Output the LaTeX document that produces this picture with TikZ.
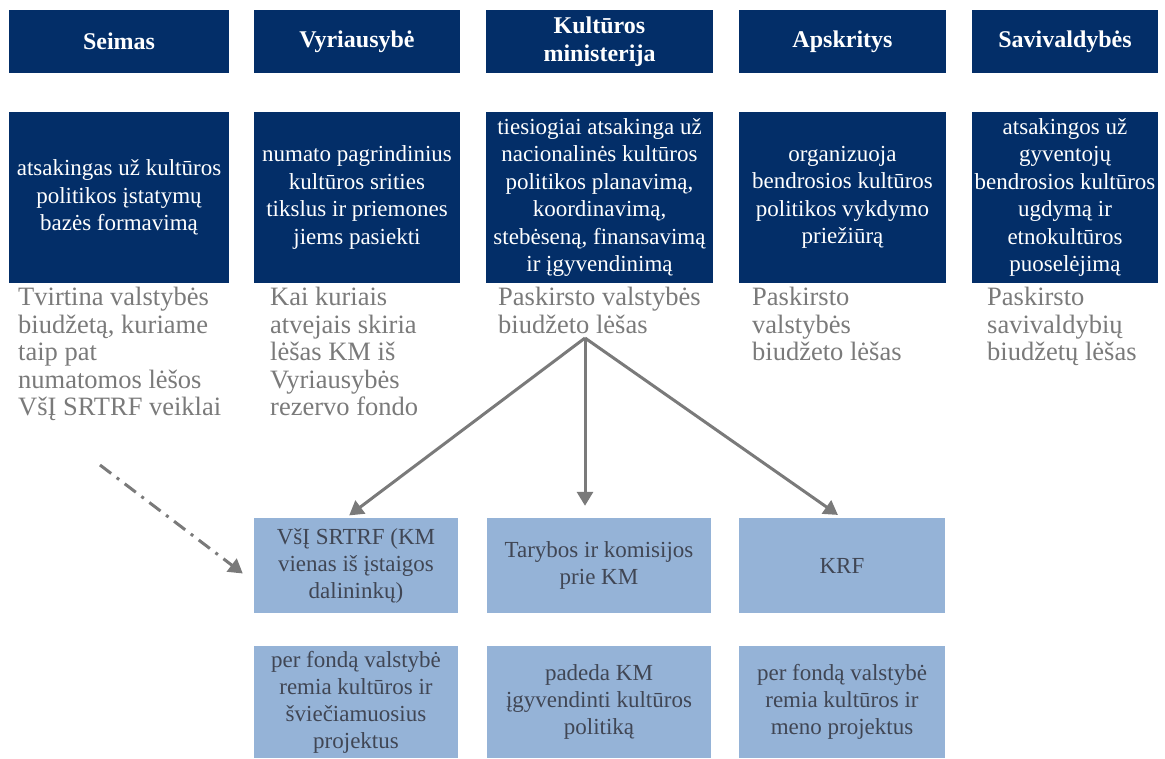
\documentclass[tikz,border=0pt]{standalone}
\usepackage{fontspec}
\setmainfont{Liberation Serif}
\usepackage{tikz}
\usetikzlibrary{arrows.meta}

\definecolor{navy}{RGB}{3,46,104}
\definecolor{paleblue}{RGB}{149,179,215}
\definecolor{greytext}{RGB}{122,122,122}
\definecolor{slatetext}{RGB}{64,70,84}

\begin{document}
\begin{tikzpicture}[x=1pt, y=-1pt,
        head/.style={fill=navy, text=white, font=\fontsize{24}{28}\selectfont\bfseries, align=center, inner sep=0pt, minimum height=63pt},
        role/.style={fill=navy, text=white, font=\fontsize{23}{27.5}\selectfont, align=center, inner sep=0pt, minimum height=171pt},
        money/.style={text=greytext, font=\fontsize{26.5}{27.5}\selectfont, align=left, anchor=north west, inner sep=0pt},
        body/.style={fill=paleblue, text=slatetext, font=\fontsize{23}{27}\selectfont, align=center, inner sep=0pt},
        flow/.style={draw=greytext, line width=3pt, -{Triangle[width=16pt,length=14pt]}}]
        \useasboundingbox (0,0) rectangle (1165,758);
        % institutions
        \node[head, minimum width=220pt] (seimas) at (119,41.5) {Seimas};
        \node[head, minimum width=206pt] (vyriausybe) at (357,41.5) {Vyriausybė};
        \node[head, minimum width=227pt] (ministerija) at (599.5,41.5) {Kultūros\\ministerija};
        \node[head, minimum width=207pt] (apskritys) at (842.5,41.5) {Apskritys};
        \node[head, minimum width=186pt] (savivaldybes) at (1065,41.5) {Savivaldybės};
        % what they do
        \node[role, minimum width=220pt] (seimasrole) at (119,197.5) {atsakingas už kultūros\\politikos įstatymų\\bazės formavimą};
        \node[role, minimum width=206pt] (vyriausyberole) at (357,197.5) {numato pagrindinius\\kultūros srities\\tikslus ir priemones\\jiems pasiekti};
        \node[role, minimum width=227pt] (ministerijarole) at (599.5,197.5) {tiesiogiai atsakinga už\\nacionalinės kultūros\\politikos planavimą,\\koordinavimą,\\stebėseną, finansavimą\\ir įgyvendinimą};
        \node[role, minimum width=207pt] (apskritysrole) at (842.5,197.5) {organizuoja\\bendrosios kultūros\\politikos vykdymo\\priežiūrą};
        \node[role, minimum width=186pt] (savivaldybesrole) at (1065,197.5) {atsakingos už\\gyventojų\\bendrosios kultūros\\ugdymą ir\\etnokultūros\\puoselėjimą};
        % funds
        \node[money] (seimasfunds) at (18,287) {Tvirtina valstybės\\biudžetą, kuriame\\taip pat\\numatomos lėšos\\VšĮ SRTRF veiklai};
        \node[money] (vyriausybefunds) at (270,287) {Kai kuriais\\atvejais skiria\\lėšas KM iš\\Vyriausybės\\rezervo fondo};
        \node[money] (ministerijafunds) at (498,287) {Paskirsto valstybės\\biudžeto lėšas};
        \node[money] (apskritysfunds) at (752,287) {Paskirsto\\valstybės\\biudžeto lėšas};
        \node[money] (savivaldybesfunds) at (987,287) {Paskirsto\\savivaldybių\\biudžetų lėšas};
        % bodies under KM
        \node[body, minimum width=204pt, minimum height=95pt] (srtrf) at (356,565.5) {VšĮ SRTRF (KM\\vienas iš įstaigos\\dalininkų)};
        \node[body, minimum width=224pt, minimum height=95pt] (tarybos) at (599,565.5) {Tarybos ir komisijos\\prie KM};
        \node[body, minimum width=206pt, minimum height=95pt] (krf) at (842,565.5) {KRF};
        \node[body, minimum width=204pt, minimum height=112pt] (srtrfrole) at (356,702) {per fondą valstybė\\remia kultūros ir\\šviečiamuosius\\projektus};
        \node[body, minimum width=224pt, minimum height=112pt] (tarybosrole) at (599,702) {padeda KM\\įgyvendinti kultūros\\politiką};
        \node[body, minimum width=206pt, minimum height=112pt] (krfrole) at (842,702) {per fondą valstybė\\remia kultūros ir\\meno projektus};
        % arrows
        \coordinate (split) at (585,338);
        \coordinate (budget) at (100,465);
        \draw[flow, shorten >=4pt] (split) -- ([xshift=-10pt]srtrf.north);
        \draw[flow, shorten >=12pt] (split) -- (split |- tarybos.north);
        \draw[flow, shorten >=5pt] (split) -- (krf.north);
        \draw[flow, dash pattern=on 14pt off 7pt on 3pt off 7pt] (budget) -- ([xshift=-11pt,yshift=-8pt]srtrf.west);
\end{tikzpicture}
\end{document}
